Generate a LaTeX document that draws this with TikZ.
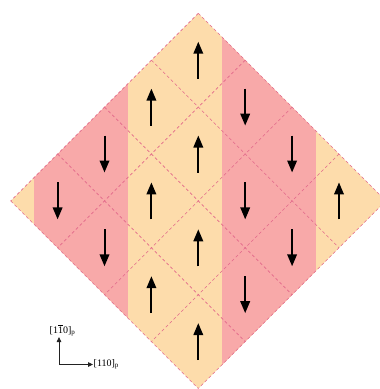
\documentclass[tikz,border=0pt]{standalone}
\usepackage{fontspec}
\setmainfont{Liberation Serif}
\usetikzlibrary{arrows.meta}
\definecolor{peach}{HTML}{FDDCAB}
\definecolor{rose}{HTML}{F8A9A9}
\definecolor{gridc}{HTML}{E2688A}
\definecolor{axc}{HTML}{222222}
\begin{document}
\begin{tikzpicture}[x=1pt,y=-1pt,
  spin/.style={line width=2pt,-{Triangle[length=12pt,width=9.5pt]}},
  gridline/.style={gridc,dash pattern=on 3pt off 2.5pt,line width=0.6pt},
  axis/.style={axc,line width=0.8pt,-{Triangle[length=5pt,width=4.5pt]}},
  lbl/.style={inner sep=0.5pt,font=\fontsize{10}{10}\selectfont}]
\useasboundingbox (0,0) rectangle (380,389);
% diamond corners
\coordinate (T) at (198.3,13.3);
\coordinate (R) at (385.9,200.9);
\coordinate (B) at (198.3,388.5);
\coordinate (L) at (10.7,200.9);
% coloured bands
\begin{scope}
  \clip (T) -- (R) -- (B) -- (L) -- cycle;
  \fill[peach] (0,0) rectangle (400,400);
  \fill[rose] (34.15,0) rectangle (127.95,400);
  \fill[rose] (221.75,0) rectangle (315.55,400);
\end{scope}
% dashed grid
\foreach \k in {0,...,4}{
  \draw[gridline] ({198.3+\k*46.9},{13.3+\k*46.9}) -- ({198.3+(\k-4)*46.9},{13.3+(\k+4)*46.9});
  \draw[gridline] ({198.3-\k*46.9},{13.3+\k*46.9}) -- ({198.3+(4-\k)*46.9},{13.3+(\k+4)*46.9});
}
% spins: i/j/direction (1 = up, -1 = down)
\foreach \i/\j/\s in {0/0/1,0/1/1,1/0/-1,0/2/-1,1/1/1,2/0/-1,0/3/-1,1/2/1,2/1/-1,3/0/1,
                      1/3/-1,2/2/1,3/1/-1,2/3/1,3/2/-1,3/3/1}{
  \pgfmathsetmacro\px{198.3+(\i-\j)*46.9}
  \pgfmathsetmacro\py{13.3+(\i+\j+1)*46.9}
  \draw[spin] (\px,{\py+18.5*\s}) -- (\px,{\py-18.5*\s});
}
% axes
\coordinate (o) at (59,364.5);
\coordinate (oy) at (59,337);
\coordinate (ox) at (93,364.5);
\draw[axis] (o) -- (oy);
\draw[axis] (o) -- (ox);
\node[lbl,anchor=west] (lx) at (ox) {[110]\textsubscript{p}};
\node[lbl] (ly) at (62.5,330.5) {[1\ensuremath{\overline{\mbox{1}}}0]\textsubscript{p}};
\end{tikzpicture}
\end{document}
